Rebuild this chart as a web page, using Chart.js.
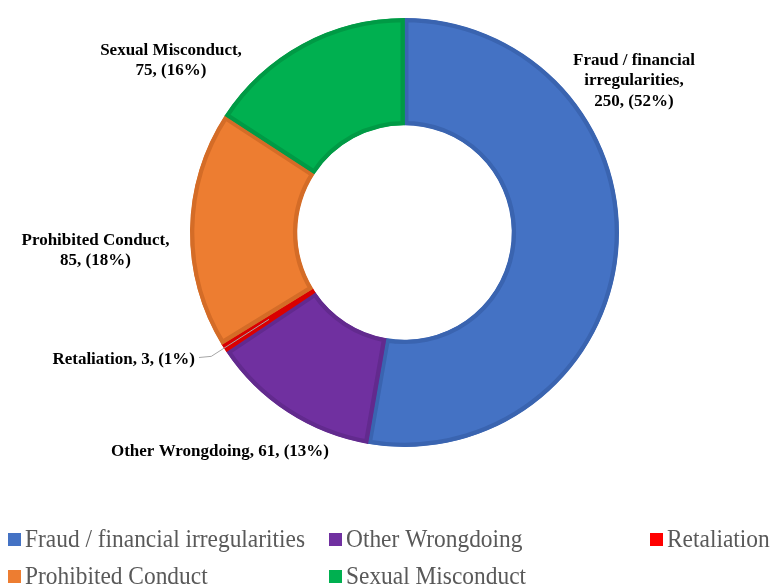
<!DOCTYPE html>
<html>
<head>
<meta charset="utf-8">
<script src="https://cdn.jsdelivr.net/npm/chart.js@4"></script>
<style>
  html, body { margin: 0; padding: 0; background: #fff; }
  #wrap { width: 771px; height: 588px; }
</style>
</head>
<body>
<div id="wrap"><canvas id="chart" width="771" height="588"></canvas></div>
<script>
// values
const categories = ['Fraud / financial irregularities', 'Other Wrongdoing', 'Retaliation', 'Prohibited Conduct', 'Sexual Misconduct'];
const values = [250, 61, 3, 85, 75];
const percents = ['52%', '13%', '1%', '18%', '16%'];

const fills = ['#4472C4', '#7030A0', '#FF0000', '#ED7D31', '#00B050'];
const borders = ['#3A64B0', '#622A8E', '#DA0000', '#D46C27', '#009A45'];

// where each data label sits, relative to the doughnut centre
const labelLayout = [
    { dx: 229.5, dy: -168, align: 'center', maxWidth: 130 },
    { dx: -184.5, dy: 223, align: 'center' },
    { dx: -209.5, dy: 131, align: 'right', leader: true },
    { dx: -309, dy: 12, align: 'center', maxWidth: 160 },
    { dx: -233.5, dy: -178, align: 'center', maxWidth: 150 },
];

// legend grid: three columns, two rows
const legendCols = [8, 329, 650];
const legendRows = [533, 570];

function wrapText(ctx, text, maxWidth) {
    if (!maxWidth) return [text];
    const words = text.split(' ');
    const lines = [];
    let line = '';
    for (const w of words) {
        const test = line ? line + ' ' + w : w;
        if (line && ctx.measureText(test).width > maxWidth) {
            lines.push(line);
            line = w;
        } else {
            line = test;
        }
    }
    if (line) lines.push(line);
    return lines;
}

const labelsPlugin = {
    id: 'sliceLabels',
    afterDatasetsDraw(chart) {
        const ctx = chart.ctx;
        const arcs = chart.getDatasetMeta(0).data;
        const cx = arcs[0].x, cy = arcs[0].y;
        ctx.save();
        ctx.font = 'bold 17px "Liberation Serif", "Times New Roman", serif';
        ctx.fillStyle = '#000';
        ctx.textBaseline = 'alphabetic';
        arcs.forEach((arc, i) => {
            const lay = labelLayout[i];
            const text = `${categories[i]}, ${values[i]}, (${percents[i]})`;
            const lines = wrapText(ctx, text, lay.maxWidth);
            const x = cx + lay.dx, y = cy + lay.dy;
            ctx.textAlign = lay.align;
            lines.forEach((ln, k) => ctx.fillText(ln, x, y + k * 20.5));
            if (lay.leader) {
                const mid = (arc.startAngle + arc.endAngle) / 2;
                const rIn = (arc.innerRadius + arc.outerRadius) / 2;
                const rOut = arc.outerRadius + 15;
                ctx.beginPath();
                ctx.strokeStyle = '#A6A6A6';
                ctx.lineWidth = 1;
                ctx.moveTo(cx + Math.cos(mid) * rIn, cy + Math.sin(mid) * rIn);
                ctx.lineTo(cx + Math.cos(mid) * rOut, cy + Math.sin(mid) * rOut);
                ctx.lineTo(x + 4, y - 6);
                ctx.stroke();
            }
        });
        ctx.restore();
    },
};

const legendPlugin = {
    id: 'gridLegend',
    afterDraw(chart) {
        const ctx = chart.ctx;
        ctx.save();
        ctx.textAlign = 'left';
        ctx.textBaseline = 'alphabetic';
        ctx.font = '26px "Liberation Serif", "Times New Roman", serif';
        categories.forEach((name, i) => {
            const x = legendCols[i % 3];
            const y = legendRows[Math.floor(i / 3)];
            ctx.fillStyle = fills[i];
            ctx.fillRect(x, y, 13, 13);
            ctx.save();
            ctx.translate(x + 17, y + 14);
            ctx.scale(0.9, 1);
            ctx.fillStyle = '#595959';
            ctx.fillText(name, 0, 0);
            ctx.restore();
        });
        ctx.restore();
    },
};

new Chart(document.getElementById('chart'), {
    type: 'doughnut',
    data: {
        labels: categories,
        datasets: [
            {
                data: values,
                backgroundColor: fills,
                borderColor: borders,
                borderWidth: 4,
                borderAlign: 'inner',
            },
        ],
    },
    options: {
        responsive: false,
        animation: false,
        cutout: '50%',
        layout: {
            padding: { top: 18, bottom: 141, left: 190, right: 152 },
        },
        plugins: {
            legend: { display: false },
            tooltip: { enabled: false },
        },
    },
    plugins: [labelsPlugin, legendPlugin],
});
</script>
</body>
</html>
